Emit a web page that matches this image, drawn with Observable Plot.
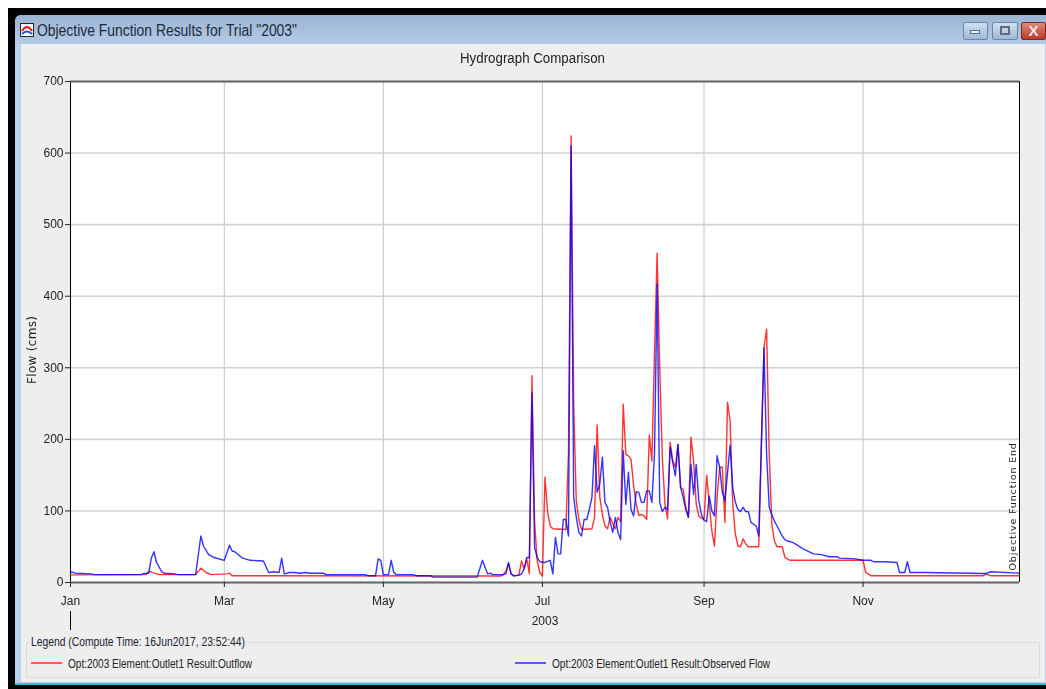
<!DOCTYPE html>
<html>
<head>
<meta charset="utf-8">
<script src="https://cdn.jsdelivr.net/npm/d3@7"></script>
<script src="https://cdn.jsdelivr.net/npm/@observablehq/plot@0.6"></script>
<style>
html,body{margin:0;padding:0;background:#fff;width:1046px;height:689px;overflow:hidden;font-family:"Liberation Sans",Arial,sans-serif;color:#222}
#page{position:absolute;left:0;top:0;width:1046px;height:689px;filter:blur(0.3px)}
.abs{position:absolute}
.fit{position:absolute;white-space:nowrap;transform-origin:0 50%}
#chart{position:absolute;left:0;top:0}
#chart svg{background:transparent;overflow:visible;display:block}
</style>
</head>
<body>
<div id="page">
<div class="abs" style="left:8px;top:8px;width:1038px;height:681px;background:#000"></div>
<div class="abs" style="left:15px;top:15px;width:1031px;height:670px;background:#b8d2ee;border-radius:6px 0 0 0"></div>
<div class="abs" style="left:15px;top:15px;width:1031px;height:29px;background:linear-gradient(#9bb4d2,#b4cbe6);border-radius:6px 0 0 0"></div>
<div class="abs" style="left:21px;top:44px;width:1024px;height:638px;background:#eeeeee"></div>
<div class="abs" style="left:15px;top:683px;width:1031px;height:2px;background:#35c0e0"></div>
<svg class="abs" style="left:20px;top:23px" width="14" height="14" viewBox="0 0 14 14"><rect x=".5" y=".5" width="13" height="13" fill="#fff" stroke="#223"/><path d="M2 8 Q7 0 12 8" fill="none" stroke="#e02020" stroke-width="2"/><path d="M2 11 Q7 6 12 11" fill="none" stroke="#2050d0" stroke-width="2"/></svg>
<div class="fit" data-w="260" style="left:37px;top:21px;font-size:16px;line-height:20px;color:#1c2a3c">Objective Function Results for Trial "2003"</div>
<div class="abs" style="left:963px;top:22px;width:25px;height:18px;box-sizing:border-box;border:1px solid #6f86a3;border-radius:2px;background:linear-gradient(#cfe0f2,#9db8d6)"></div>
<div class="abs" style="left:970px;top:30px;width:10px;height:4px;background:#e8edf2;border:1px solid #5d6b7c;box-sizing:border-box"></div>
<div class="abs" style="left:992px;top:22px;width:26px;height:18px;box-sizing:border-box;border:1px solid #6f86a3;border-radius:2px;background:linear-gradient(#cfe0f2,#9db8d6)"></div>
<div class="abs" style="left:1000px;top:26px;width:10px;height:9px;background:#c3d0de;border:2px solid #5d6b7c;box-sizing:border-box"></div>
<div class="abs" style="left:1021px;top:22px;width:25px;height:18px;box-sizing:border-box;border:1px solid #7a2a2a;border-radius:2px;background:linear-gradient(#e08a78,#b83a28)"></div>
<div class="abs" style="left:1021px;top:20px;width:25px;height:20px;line-height:21px;text-align:center;color:#eee;font-weight:bold;font-size:15px">X</div>

<div id="chart"></div>

<div class="fit" data-w="145" style="left:460px;top:50px;font-size:14px;line-height:16px;color:#222">Hydrograph Comparison</div>
<div class="abs" style="left:70px;top:611px;width:1px;height:19px;background:#000"></div>
<div class="abs" style="left:26px;top:642px;width:1014px;height:36px;box-sizing:border-box;border:1px solid #dcdcdc"></div>
<div class="abs" style="left:29px;top:636px;width:218px;height:12px;background:#eee"></div>
<div class="fit" data-w="214" style="left:31px;top:635px;font-size:12px;line-height:14px;color:#223">Legend (Compute Time: 16Jun2017, 23:52:44)</div>
<div class="abs" style="left:31px;top:662px;width:31px;height:2px;background:#ff5a5a"></div>
<div class="fit" data-w="184" style="left:68px;top:657px;font-size:12px;line-height:14px;color:#222">Opt:2003 Element:Outlet1 Result:Outflow</div>
<div class="abs" style="left:515px;top:662px;width:31px;height:2px;background:#5a5aff"></div>
<div class="fit" data-w="218" style="left:552px;top:657px;font-size:12px;line-height:14px;color:#222">Opt:2003 Element:Outlet1 Result:Observed Flow</div>
</div>

<script>
const year = 2003;
const monthTickDays = [0, 59, 120, 181, 243, 304];
const monthTickLabels = ["Jan", "Mar", "May", "Jul", "Sep", "Nov"];
const lastDay = 364;
const flowTicks = [0, 100, 200, 300, 400, 500, 600, 700];
const flowLabel = "Flow (cms)";
const endLabel = "Objective Function End";

const outflowDays = [0,29,30,32,34,48,50,52,54,60,61,62,165,166,167,168,169,170,172,173,174,175,176,177,178,179,180,181,182,183,184,185,190,191,192,193,194,195,196,200,201,202,203,204,205,206,207,208,209,210,211,212,213,214,215,216,217,218,219,220,221,222,223,224,225,226,227,228,229,230,231,232,233,234,235,236,237,238,239,240,241,242,243,244,245,246,247,248,249,250,251,252,253,254,255,256,257,258,259,260,264,266,267,268,269,270,271,273,274,276,304,305,307,350,351,353,364];
const outflowCms = [10.7,11,16,13,11,11,20,14,11,12,13,9.5,9,11,16,26,12,9,11,30,19,33,12,289,86,30,14,9,147,98,79,75,74,180,624,249,114,88,74,75,91,220,120,95,79,75,91,82,75,91,85,249,179,177,172,135,109,94,95,93,88,206,170,320,460,300,175,110,89,196,170,161,193,133,130,105,91,203,170,110,93,90,88,150,110,72,51,119,161,161,84,252,226,110,68,51,50,61,54,50,50,328,354,180,81,58,50,50,35,31,31,14,9.5,9.5,11.6,9.5,9.5];

const observedDays = [0,2,8,9,27,28,30,31,32,33,35,36,40,41,48,50,51,53,55,59,61,62,63,66,69,74,76,78,80,81,82,84,86,88,90,92,97,98,113,114,117,118,119,120,122,123,124,125,131,133,138,139,156,158,160,161,162,166,167,168,169,170,172,173,174,175,176,177,178,179,180,182,184,185,186,187,188,189,190,191,192,193,194,195,196,197,198,199,200,201,202,203,204,205,206,207,208,209,210,211,212,213,214,215,216,217,218,219,220,221,222,223,224,225,226,227,228,229,230,231,232,233,234,235,236,237,238,239,240,241,242,243,244,245,246,247,248,249,250,251,253,254,255,256,257,258,259,260,261,263,264,266,267,268,269,270,271,272,273,274,275,277,278,281,285,288,291,294,295,301,304,307,308,312,317,318,320,321,322,327,328,350,351,353,364];
const observedCms = [15,13,12,11,11,12.5,13,34,43,28,15,13,12,11,11,65,51,39,35,31,52,44,43,34,31,30,14,15,14,34,12,14,14,13,14,13,13,11,11,9.5,9.5,33,31,11,11,31,14,11,11,9.5,9.5,7.5,7.5,31,12,13,11,11,12,28,12,9.5,10,12,19,35,35,265,49,35,29,28,31,12,63,40,40,88,88,65,610,119,91,70,65,88,88,102,119,191,126,137,175,112,105,84,70,91,70,60,184,109,154,102,93,127,126,112,112,128,128,112,180,417,112,99,105,102,189,168,149,193,133,119,102,91,165,123,165,114,95,87,85,121,100,93,177,161,126,114,192,133,112,102,99,105,99,99,84,79,65,328,180,105,95,86,79,72,65,60,58,56,54,47,40,39,36,36,34,33,31,31,29,29,28,14,14,29,14,14,14,12.5,12.5,15,13,12.5];

const start = new Date(Date.UTC(year, 0, 1));
const toDate = d => d3.utcDay.offset(start, d);
const table = (days, vals) => days.map((d, i) => ({date: toDate(d), flow: vals[i]}));
const outflow = table(outflowDays, outflowCms);
const observed = table(observedDays, observedCms);
const tickDates = monthTickDays.map(toDate);
const labelOf = new Map(tickDates.map((d, i) => [+d, monthTickLabels[i]]));
const xEnd = toDate(lastDay);
const spaced = px => (index, scales, values, dims, ctx, next) => {
  const g = next(index, scales, values, dims, ctx);
  g.querySelectorAll("text").forEach(t => t.style.letterSpacing = px);
  return g;
};

const chart = Plot.plot({
  width: 1046, height: 632,
  marginLeft: 70, marginRight: 27, marginTop: 81, marginBottom: 50,
  style: {background: "transparent", fontFamily: "'Liberation Sans',Arial,sans-serif", fontSize: "12px", color: "#222"},
  x: {type: "utc", domain: [start, xEnd]},
  y: {domain: [0, 700]},
  marks: [
    Plot.frame({fill: "#fff", stroke: "none"}),
    Plot.ruleY(flowTicks, {stroke: "#d2d2d2", strokeWidth: 1.6}),
    Plot.ruleX(tickDates, {stroke: "#cccccc", strokeWidth: 1.2}),
    Plot.ruleX([start], {stroke: "#000", strokeWidth: 1}),
    Plot.ruleX([xEnd], {stroke: "#000", strokeWidth: 1}),
    Plot.ruleY([0], {stroke: "#666", strokeWidth: 2}),
    Plot.ruleY([700], {stroke: "#666", strokeWidth: 2}),
    Plot.axisY({ticks: flowTicks, tickSize: 5, tickPadding: 2, label: null, stroke: "#222", fontSize: 12}),
    Plot.axisX({ticks: tickDates, tickSize: 5, tickPadding: 9, tickFormat: d => labelOf.get(+d), label: "2003", labelAnchor: "center", labelArrow: "none", labelOffset: 42, stroke: "#222", fontSize: 12}),
    Plot.text([flowLabel], {x: start, y: 325, rotate: -90, dx: -38, fontSize: 12, fontFamily: "'DejaVu Sans',sans-serif", fill: "#222", render: spaced("0.3px")}),
    Plot.line(outflow, {x: "date", y: "flow", stroke: "#ff0000", strokeWidth: 1.4, strokeOpacity: 0.8, curve: "linear"}),
    Plot.line(observed, {x: "date", y: "flow", stroke: "#0000ff", strokeWidth: 1.4, strokeOpacity: 0.8, curve: "linear"}),
    Plot.text([endLabel], {x: xEnd, y: 0, rotate: -90, textAnchor: "start", dx: -7, dy: -12, fontSize: 9.5, fontFamily: "'DejaVu Sans',sans-serif", fill: "#222", render: spaced("0.85px")})
  ]
});
document.getElementById("chart").appendChild(chart);

document.querySelectorAll(".fit").forEach(el => {
  const w = +el.dataset.w, m = el.getBoundingClientRect().width;
  el.style.transform = `scaleX(${w / m})`;
});
</script>
</body>
</html>
